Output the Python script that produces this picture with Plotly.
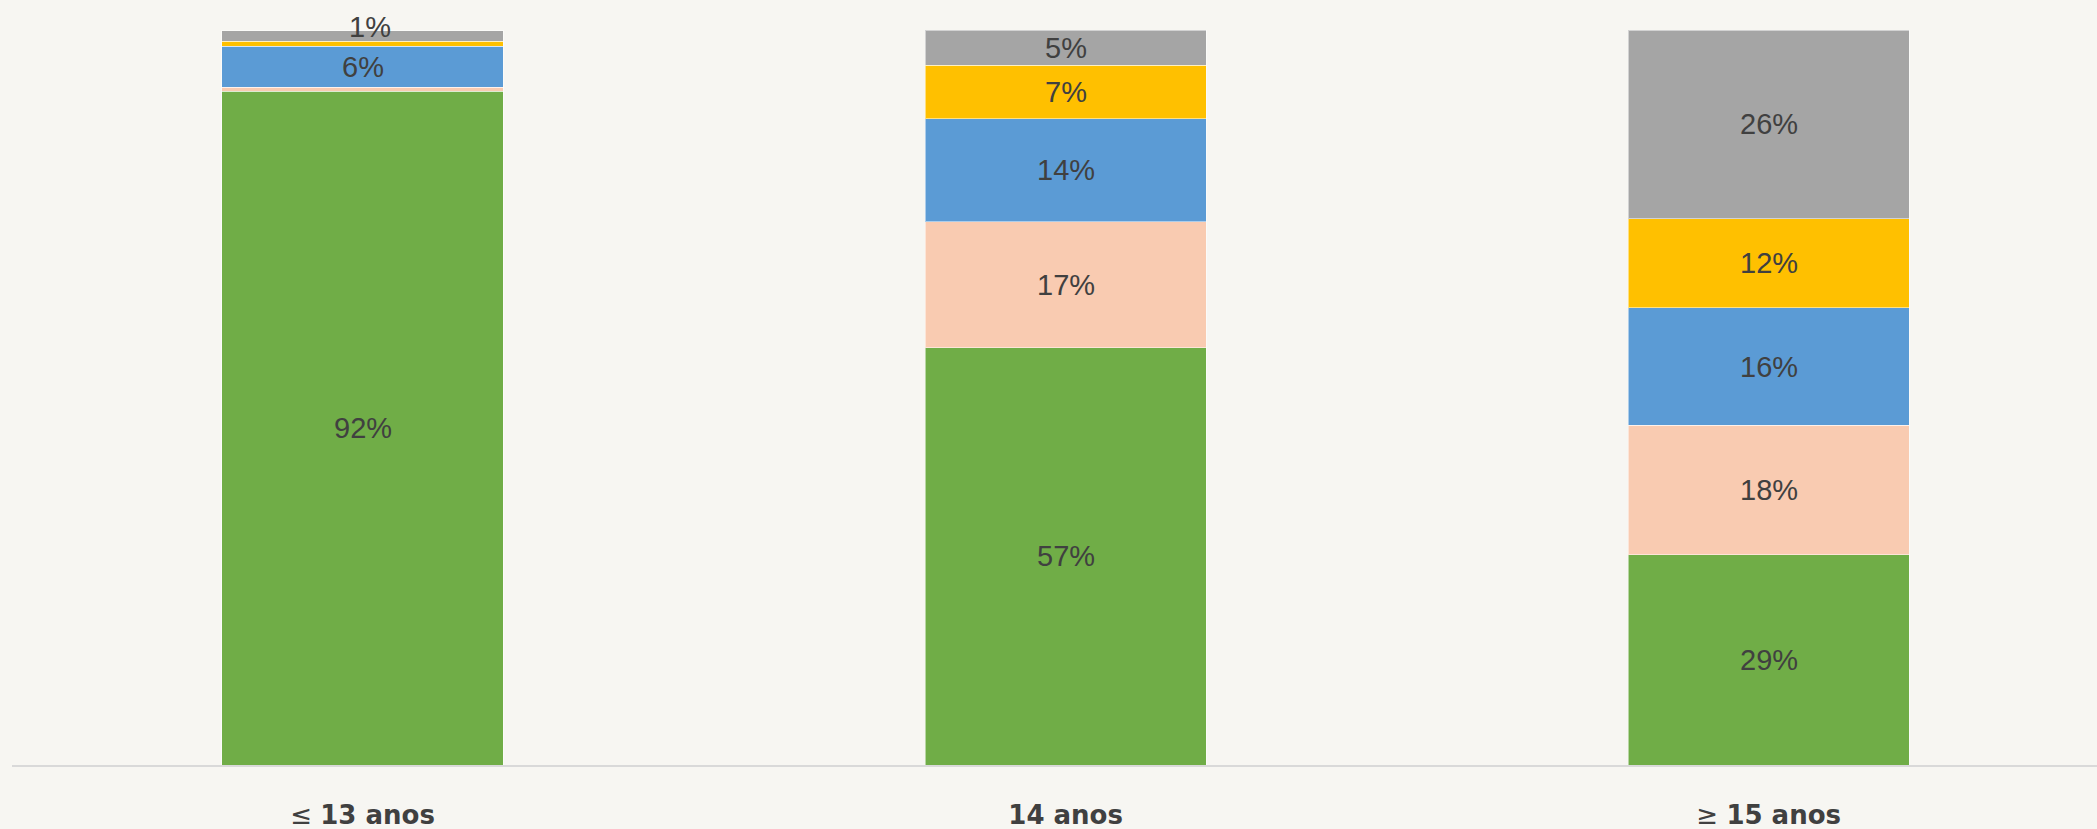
import plotly.graph_objects as go
import numpy as np

categories = ["≤ 13 anos", "14 anos", "≥ 15 anos"]
tick_labels = ["≤ <b>13 anos</b>", "<b>14 anos</b>", "≥ <b>15 anos</b>"]

series_names = ["Verde", "Rosa", "Azul", "Amarelo", "Cinza"]
green_vals = [91.7, 56.8, 28.6]
pink_vals = [0.5, 17.1, 17.6]
blue_vals = [5.6, 14.0, 16.0]
yellow_vals = [0.7, 7.3, 12.1]
gray_vals = [1.4, 4.8, 25.7]

colors = ["#70AD47", "#F9CBB1", "#5B9BD5", "#FFC000", "#A5A5A5"]
all_series = [green_vals, pink_vals, blue_vals, yellow_vals, gray_vals]

xpos = list(range(len(categories)))

fig = go.Figure()
for name, vals, col in zip(series_names, all_series, colors):
    fig.add_trace(go.Bar(
        x=xpos, y=vals, name=name,
        marker=dict(color=col, line=dict(color="rgba(255,255,255,0.5)", width=1)),
        hoverinfo="skip",
    ))

# data labels at segment midpoints
annotations = []
cum = np.zeros(len(categories))
for vals in all_series:
    v = np.array(vals)
    mids = cum + v / 2
    for i, (val, mid) in enumerate(zip(v, mids)):
        if val >= 1:
            small = val < 2
            annotations.append(dict(
                x=xpos[i], y=mid, xref="x", yref="y",
                text=f"{round(val):.0f}%", showarrow=False,
                font=dict(family="Liberation Sans, Arial, sans-serif", size=29, color="#404040"),
                yshift=9 if small else 0, xshift=7 if small else 0,
            ))
    cum = cum + v

fig.update_layout(
    barmode="stack",
    bargap=0.6,
    width=2097, height=829,
    margin=dict(l=12, r=0, t=30, b=64),
    paper_bgcolor="#F7F6F2",
    plot_bgcolor="#F7F6F2",
    showlegend=False,
    annotations=annotations,
)
fig.update_xaxes(
    range=[-0.4986, 2.467],
    tickmode="array", tickvals=xpos, ticktext=tick_labels,
    tickfont=dict(family="DejaVu Sans, sans-serif", size=26, color="#404040"),
    showline=True, linecolor="#D9D9D9", linewidth=2,
    showgrid=False, zeroline=False,
    ticks="outside", ticklen=26, tickcolor="rgba(0,0,0,0)",
)
fig.update_yaxes(range=[0, 100], visible=False, showgrid=False, zeroline=False)

fig.write_html("out.html", config={"displayModeBar": False},
               post_script="document.body.style.margin='0';document.body.style.overflow='hidden';")
